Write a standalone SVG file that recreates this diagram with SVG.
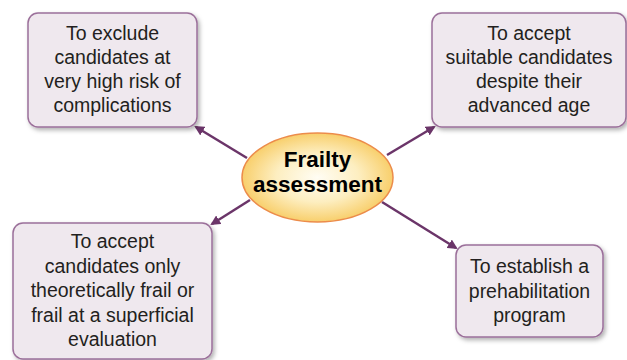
<svg xmlns="http://www.w3.org/2000/svg" width="627" height="360" viewBox="0 0 627 360">
<style>
.box{fill:#efe8ee;stroke:#9b6f9a;stroke-width:1.5;filter:url(#sh)}
.t{font-family:"Liberation Sans",Arial,sans-serif;font-size:19.5px;fill:#231f20;text-anchor:middle}
.h{font-family:"Liberation Sans",Arial,sans-serif;font-size:22.5px;font-weight:bold;fill:#000;text-anchor:middle}
.c{stroke:#6b3569;stroke-width:2.5;fill:none;marker-end:url(#ah)}
</style>
<defs>
<filter id="sh" x="-10%" y="-10%" width="130%" height="130%">
<feDropShadow dx="2" dy="2.5" stdDeviation="2" flood-color="#000" flood-opacity="0.3"/>
</filter>
<radialGradient id="eg" cx="50%" cy="50%" r="50%">
<stop offset="0" stop-color="#fffdf4"/>
<stop offset="0.55" stop-color="#fdeec0"/>
<stop offset="1" stop-color="#f8cf6c"/>
</radialGradient>
<marker id="ah" markerWidth="10" markerHeight="10" refX="8" refY="5" orient="auto" markerUnits="userSpaceOnUse">
<path d="M0,0 L10,5 L0,10 Z" fill="#6b3569"/>
</marker>
</defs>
<rect width="627" height="360" fill="#fff"/>
<g id="connectors">
<line class="c" x1="247" y1="158" x2="196" y2="127"/>
<line class="c" x1="387" y1="155" x2="434" y2="127"/>
<line class="c" x1="250" y1="200" x2="212" y2="224"/>
<line class="c" x1="382" y1="202" x2="456" y2="248"/>
</g>
<g id="center">
<ellipse cx="317.5" cy="177.5" rx="75.5" ry="44.5" fill="url(#eg)" stroke="#ec8c4b" stroke-width="1.5"/>
<text class="h" x="317.5" y="166.5">Frailty</text>
<text class="h" x="317.5" y="191.5">assessment</text>
</g>
<g id="n1">
<rect class="box" x="28" y="13" width="169" height="114" rx="10"/>
<text class="t" x="112.5" y="39.5">To exclude</text>
<text class="t" x="112.5" y="63.5">candidates at</text>
<text class="t" x="112.5" y="87.5">very high risk of</text>
<text class="t" x="112.5" y="111.5">complications</text>
</g>
<g id="n2">
<rect class="box" x="432" y="13" width="194" height="114" rx="10"/>
<text class="t" x="529" y="39.5">To accept</text>
<text class="t" x="529" y="63.5">suitable candidates</text>
<text class="t" x="529" y="87.5">despite their</text>
<text class="t" x="529" y="111.5">advanced age</text>
</g>
<g id="n3">
<rect class="box" x="13" y="223" width="199" height="136" rx="10"/>
<text class="t" x="112.5" y="248">To accept</text>
<text class="t" x="112.5" y="272.5">candidates only</text>
<text class="t" x="112.5" y="297">theoretically frail or</text>
<text class="t" x="112.5" y="321.5">frail at a superficial</text>
<text class="t" x="112.5" y="346">evaluation</text>
</g>
<g id="n4">
<rect class="box" x="456" y="245" width="147" height="92" rx="10"/>
<text class="t" x="529.5" y="273">To establish a</text>
<text class="t" x="529.5" y="297.5">prehabilitation</text>
<text class="t" x="529.5" y="322">program</text>
</g>
</svg>
